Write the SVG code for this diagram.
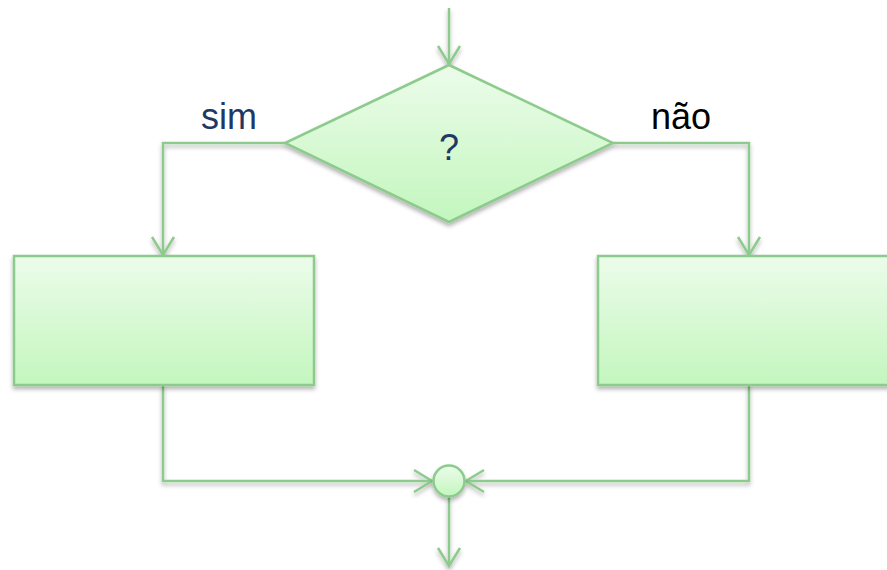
<svg xmlns="http://www.w3.org/2000/svg" width="887" height="570" viewBox="0 0 887 570">
<defs>
<linearGradient id="g" x1="0" y1="0" x2="0" y2="1">
<stop offset="0" stop-color="#ECFCEA"/>
<stop offset="1" stop-color="#C3F6BE"/>
</linearGradient>
<filter id="sh" filterUnits="userSpaceOnUse" x="0" y="0" width="887" height="570">
<feDropShadow dx="0" dy="3" stdDeviation="2" flood-color="#000" flood-opacity="0.3"/>
</filter>
<marker id="ar" viewBox="-20 -13 22 26" markerWidth="22" markerHeight="26" refX="0" refY="0" orient="auto" markerUnits="userSpaceOnUse">
<path d="M-18,-11 L0,0 L-18,11" fill="none" stroke="#8DCB8D" stroke-width="2.5"/>
</marker>
</defs>
<style>
.sh{fill:url(#g);stroke:#8DCB8D;stroke-width:2.5;filter:url(#sh)}
.ln{fill:none;stroke:#8DCB8D;stroke-width:2.5;filter:url(#sh)}
.t{font-family:"Liberation Sans",Arial,sans-serif;font-size:36px}
</style>
<g id="connectors">
<path class="ln" d="M449,8 L449,64" marker-end="url(#ar)"/>
<path class="ln" d="M285,143 L163,143 L163,255" marker-end="url(#ar)"/>
<path class="ln" d="M613,143 L749,143 L749,255" marker-end="url(#ar)"/>
<path class="ln" d="M163,385 L163,481 L432,481" marker-end="url(#ar)"/>
<path class="ln" d="M749,385 L749,481 L466,481" marker-end="url(#ar)"/>
<path class="ln" d="M449,497 L449,566" marker-end="url(#ar)"/>
</g>
<g id="decision">
<polygon class="sh" points="449,65 613,143 449,222 285,143"/>
<text class="t" x="449" y="160" text-anchor="middle" fill="#1F3864" font-size="40">?</text>
</g>
<g id="label-sim"><text class="t" x="229" y="129" text-anchor="middle" fill="#1F3864">sim</text></g>
<g id="label-nao"><text class="t" x="681" y="129" text-anchor="middle" fill="#000">não</text></g>
<g id="box-left"><rect class="sh" x="14" y="256" width="300" height="129"/></g>
<g id="box-right"><rect class="sh" x="598" y="256" width="300" height="129"/></g>
<g id="merge"><circle class="sh" cx="449" cy="481" r="15.5"/></g>
</svg>
